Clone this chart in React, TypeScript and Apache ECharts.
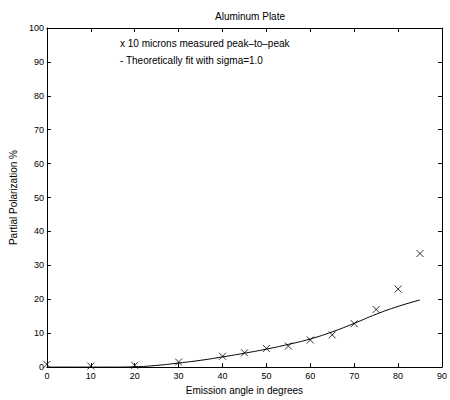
import React, { useEffect, useRef } from "react";
import * as echarts from "echarts";

const angles = [0, 10, 20, 30, 40, 45, 50, 55, 60, 65, 70, 75, 80, 85];
const measured = [0.8, 0.3, 0.5, 1.5, 3.2, 4.2, 5.5, 6.2, 8.0, 9.5, 12.8, 17.0, 23.0, 33.5];
const fitAngles = [0, 5, 10, 15, 20, 25, 30, 35, 40, 45, 50, 55, 60, 65, 70, 75, 80, 85];
const fitValues = [0, 0, 0, 0, 0.1, 0.5, 1.2, 2.0, 3.0, 4.1, 5.3, 6.7, 8.3, 10.4, 12.9, 15.6, 17.9, 19.8];
const xTicks = [0, 10, 20, 30, 40, 50, 60, 70, 80, 90];
const yTicks = [0, 10, 20, 30, 40, 50, 60, 70, 80, 90, 100];

const FONT = "Liberation Sans, Arial, sans-serif";

export default function App() {
  const ref = useRef<HTMLDivElement>(null);
  useEffect(() => {
    if (!ref.current) return;
    const chart = echarts.init(ref.current, undefined, { renderer: "svg" });
    const axisCommon = {
      type: "value" as const,
      interval: 10,
      axisLine: { show: true, onZero: false, lineStyle: { color: "#000", width: 1 } },
      axisTick: { show: true, inside: true, length: 4, lineStyle: { color: "#000" } },
      splitLine: { show: false },
    };
    chart.setOption({
      animation: false,
      backgroundColor: "#fff",
      title: {
        text: "Aluminum Plate",
        left: 245,
        top: 6,
        textAlign: "center",
        textStyle: { fontSize: 10, fontWeight: "normal", fontFamily: FONT, color: "#000" },
      },
      grid: { left: 45, right: 3, top: 28, bottom: 32 },
      xAxis: [
        {
          ...axisCommon,
          min: 0,
          max: 90,
          position: "bottom",
          name: "Emission angle in degrees",
          nameLocation: "middle",
          nameGap: 17,
          nameTextStyle: { fontSize: 10, fontFamily: FONT, color: "#000" },
          axisLabel: {
            fontSize: 9,
            fontFamily: FONT,
            color: "#000",
            margin: 4,
            customValues: xTicks,
          },
        },
        {
          ...axisCommon,
          min: 0,
          max: 90,
          position: "top",
          axisLabel: { show: false },
        },
      ],
      yAxis: [
        {
          ...axisCommon,
          min: 0,
          max: 100,
          position: "left",
          name: "Partial Polarization %",
          nameLocation: "middle",
          nameGap: 21,
          nameTextStyle: { fontSize: 10, fontFamily: FONT, color: "#000" },
          axisLabel: {
            fontSize: 9,
            fontFamily: FONT,
            color: "#000",
            margin: 3,
            customValues: yTicks,
          },
        },
        {
          ...axisCommon,
          min: 0,
          max: 100,
          position: "right",
          axisLabel: { show: false },
        },
      ],
      graphic: [
        {
          type: "text",
          left: 120,
          top: 38,
          style: { text: "x 10 microns measured peak\u2013to\u2013peak", fontSize: 10, fontFamily: FONT, fill: "#000" },
        },
        {
          type: "text",
          left: 120,
          top: 55,
          style: { text: "- Theoretically fit with sigma=1.0", fontSize: 10, fontFamily: FONT, fill: "#000" },
        },
      ],
      series: [
        {
          type: "line",
          name: "Theoretically fit with sigma=1.0",
          data: fitAngles.map((a, i) => [a, fitValues[i]]),
          showSymbol: false,
          smooth: true,
          lineStyle: { color: "#000", width: 1 },
          xAxisIndex: 0,
          yAxisIndex: 0,
        },
        {
          type: "scatter",
          name: "10 microns measured peak-to-peak",
          data: angles.map((a, i) => [a, measured[i]]),
          symbol: "path://M0,0L10,10M10,0L0,10",
          symbolSize: 7,
          itemStyle: { color: "none", borderColor: "#000", borderWidth: 1 },
          xAxisIndex: 0,
          yAxisIndex: 0,
        },
      ],
    });
    return () => chart.dispose();
  }, []);
  return (
    <div
      ref={ref}
      style={{ position: "fixed", left: 0, top: 0, width: 450, height: 400 }}
    />
  );
}
